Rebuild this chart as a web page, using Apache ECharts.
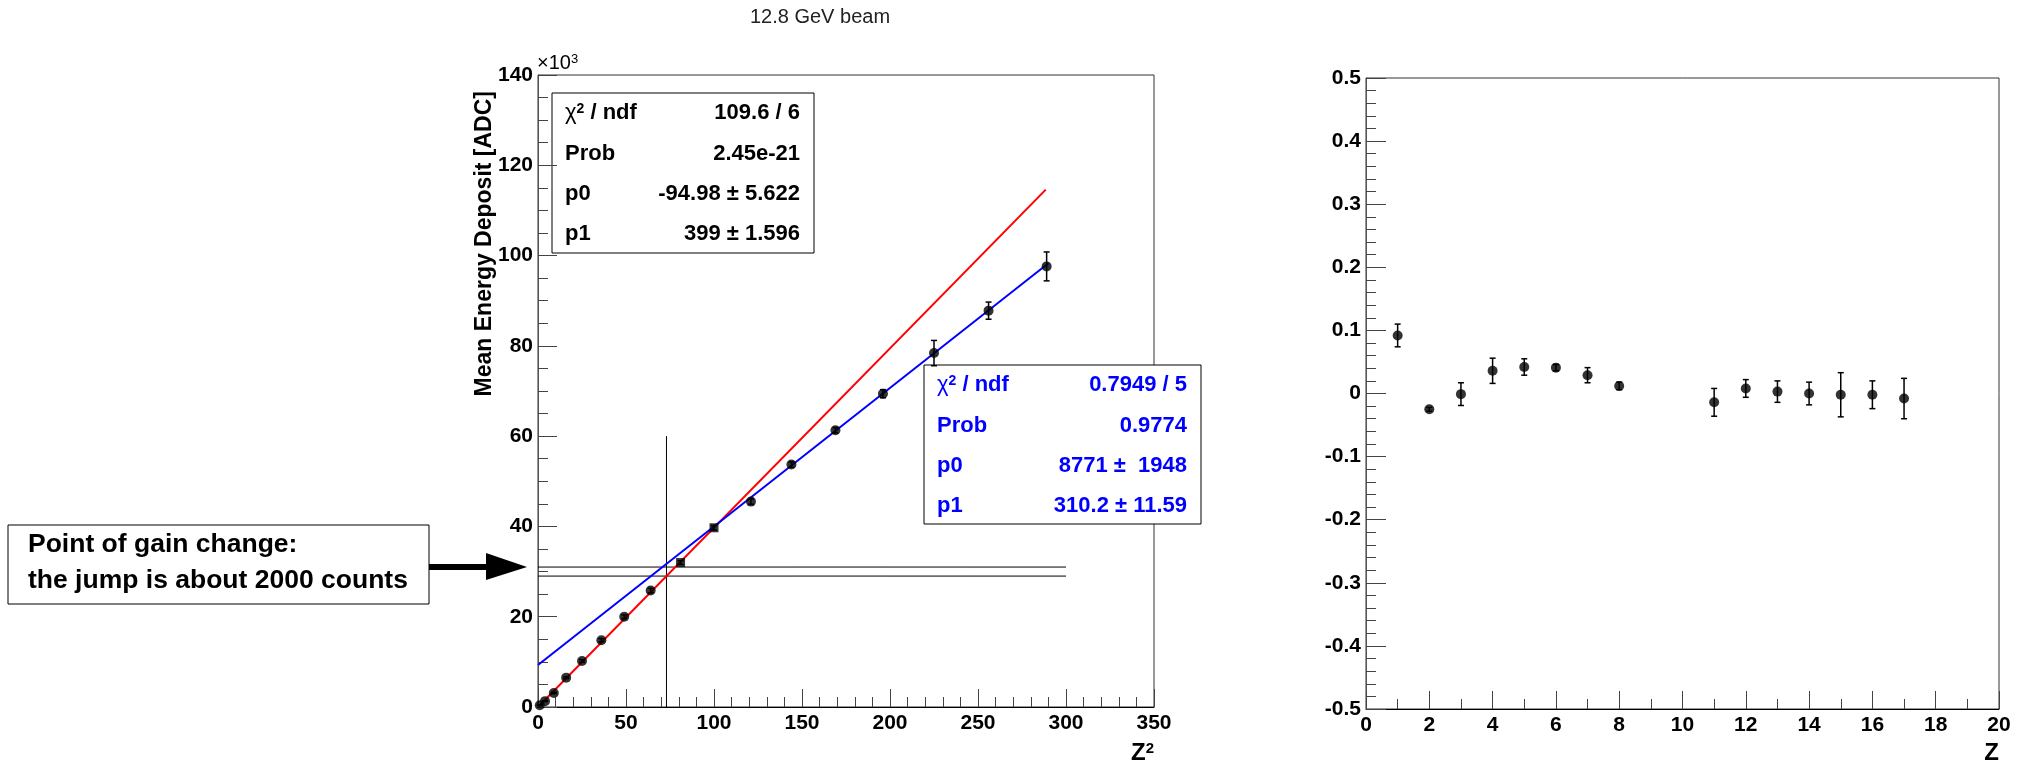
<!DOCTYPE html>
<html>
<head>
<meta charset="utf-8">
<script src="https://cdn.jsdelivr.net/npm/echarts@6/dist/echarts.min.js"></script>
<style>
html, body { margin: 0; padding: 0; background: #fff; }
#main { width: 2029px; height: 769px; }
</style>
</head>
<body>
<div id="main"></div>
<script>
// left pad: mean energy deposit vs Z^2
var zSquared = [1, 4, 9, 16, 25, 36, 49, 64, 81, 100, 121, 144, 169, 196, 225, 256, 289];
var meanDeposit = [400, 1300, 3100, 6500, 10200, 14800, 20000, 25800, 32000, 39700, 45500, 53700, 61300, 69400, 78400, 87800, 97600];
var meanDepositErr = [50, 100, 150, 200, 300, 350, 400, 500, 400, 500, 600, 600, 600, 900, 2800, 1900, 3200];
var squareMarkerX = [81, 100];

// fit lines and the gain-change guide lines (end points)
var redFit = [[0, 0], [288.5, 114600]];
var blueFit = [[0, 9300], [290, 98300]];
var gainCut = [[73, 0], [73, 60000]];
var gainLow = [[0, 29000], [300, 29000]];
var gainHigh = [[0, 31000], [300, 31000]];

// right pad: residuals vs Z
var zValues = [1, 2, 3, 4, 5, 6, 7, 8, 11, 12, 13, 14, 15, 16, 17];
var residual = [0.092, -0.025, -0.001, 0.036, 0.042, 0.041, 0.029, 0.012, -0.014, 0.008, 0.003, 0.000, -0.002, -0.002, -0.008];
var residualErr = [0.018, 0.003, 0.018, 0.020, 0.013, 0.005, 0.012, 0.006, 0.022, 0.014, 0.017, 0.018, 0.035, 0.022, 0.032];

// fit statistics boxes
var statLabels = ['{g|\u03c7}{s|2}{t| / ndf}', 'Prob', 'p0', 'p1'];
var statsRed = ['109.6 / 6', '2.45e-21', '-94.98 \u00b1 5.622', '399 \u00b1 1.596'];
var statsBlue = ['0.7949 / 5', '0.9774', '8771 \u00b1  1948', '310.2 \u00b1 11.59'];

var FONT = '"Liberation Sans", Arial, Helvetica, sans-serif';

var myChart = echarts.init(document.getElementById('main'));

function pts(xs, ys) {
    return xs.map(function (x, i) { return [x, ys[i]]; });
}
function bars(xs, ys, es) {
    return xs.map(function (x, i) { return [x, ys[i] - es[i], ys[i] + es[i]]; });
}

function errorBars(idx, data) {
    return {
        type: 'custom',
        xAxisIndex: idx,
        yAxisIndex: idx,
        data: data,
        encode: { x: 0, y: [1, 2] },
        silent: true,
        z: 3,
        renderItem: function (params, api) {
            var top = api.coord([api.value(0), api.value(2)]);
            var bot = api.coord([api.value(0), api.value(1)]);
            var st = { stroke: '#000', lineWidth: 1.5 };
            return {
                type: 'group',
                children: [
                    { type: 'line', shape: { x1: top[0], y1: top[1], x2: bot[0], y2: bot[1] }, style: st },
                    { type: 'line', shape: { x1: top[0] - 3, y1: top[1], x2: top[0] + 3, y2: top[1] }, style: st },
                    { type: 'line', shape: { x1: bot[0] - 3, y1: bot[1], x2: bot[0] + 3, y2: bot[1] }, style: st }
                ]
            };
        }
    };
}

function plainLine(data, color, width) {
    return {
        type: 'line',
        xAxisIndex: 0,
        yAxisIndex: 0,
        data: data,
        showSymbol: false,
        silent: true,
        animation: false,
        lineStyle: { color: color, width: width },
        z: 2
    };
}

function axisCommon(min, max, interval, minorSplit, tickLen, lineColor, margin, fmt) {
    return {
        type: 'value',
        min: min,
        max: max,
        interval: interval,
        axisLine: { show: true, onZero: false, lineStyle: { color: lineColor, width: 1 } },
        axisTick: { show: true, inside: true, length: tickLen, lineStyle: { color: '#444', width: 1 } },
        minorTick: { show: true, splitNumber: minorSplit, length: 10, lineStyle: { color: '#444', width: 1 } },
        splitLine: { show: false },
        axisLabel: {
            color: '#000',
            fontFamily: FONT,
            fontWeight: 'bold',
            fontSize: 21,
            margin: margin,
            formatter: fmt
        }
    };
}

function statsBox(x, y, w, h, values, color) {
    var children = [{
        type: 'rect',
        shape: { x: 0, y: 0, width: w, height: h },
        style: { fill: '#fff', stroke: '#000', lineWidth: 1 }
    }];
    var rowY = [20, 61, 101, 141];
    statLabels.forEach(function (lab, i) {
        children.push({
            type: 'text',
            x: 13, y: rowY[i],
            style: {
                text: lab,
                fill: color,
                font: 'bold 22px ' + FONT,
                verticalAlign: 'middle',
                align: 'left',
                rich: {
                    g: { fontSize: 22, fontFamily: FONT, fill: color, color: color },
                    s: { fontSize: 14, fontWeight: 'bold', fontFamily: FONT, fill: color, color: color, verticalAlign: 'top' },
                    t: { fontSize: 22, fontWeight: 'bold', fontFamily: FONT, fill: color, color: color }
                }
            }
        });
        children.push({
            type: 'text',
            x: w - 14, y: rowY[i],
            style: {
                text: values[i],
                fill: color,
                font: 'bold 22px ' + FONT,
                verticalAlign: 'middle',
                align: 'right'
            }
        });
    });
    return { type: 'group', x: x, y: y, z: 100, children: children };
}

var circleZ = [], circleV = [], squareZ = [], squareV = [];
zSquared.forEach(function (x, i) {
    if (squareMarkerX.indexOf(x) >= 0) { squareZ.push(x); squareV.push(meanDeposit[i]); }
    else { circleZ.push(x); circleV.push(meanDeposit[i]); }
});

var option = {
    animation: false,
    backgroundColor: '#fff',
    grid: [
        { left: 538, top: 75, width: 616, height: 632, show: true, borderColor: '#333', borderWidth: 1, backgroundColor: 'transparent' },
        { left: 1366, top: 78, width: 633, height: 631, show: true, borderColor: '#333', borderWidth: 1, backgroundColor: 'transparent' }
    ],
    xAxis: [
        Object.assign(axisCommon(0, 350, 50, 5, 18, '#000', 6), { gridIndex: 0 }),
        Object.assign(axisCommon(0, 20, 2, 2, 18, '#000', 6), { gridIndex: 1 })
    ],
    yAxis: [
        Object.assign(axisCommon(0, 140000, 20000, 4, 19, '#555', 5, function (v) { return v / 1000; }), { gridIndex: 0 }),
        Object.assign(axisCommon(-0.5, 0.5, 0.1, 5, 20, '#555', 5), { gridIndex: 1 })
    ],
    series: [
        plainLine(gainCut, '#000', 1),
        plainLine(gainLow, '#000', 1),
        plainLine(gainHigh, '#000', 1),
        plainLine(redFit, '#ff0000', 2),
        plainLine(blueFit, '#0000ff', 2),
        errorBars(0, bars(zSquared, meanDeposit, meanDepositErr)),
        {
            type: 'scatter', xAxisIndex: 0, yAxisIndex: 0,
            data: pts(circleZ, circleV),
            symbol: 'circle', symbolSize: 10,
            itemStyle: { color: '#000' }, z: 4
        },
        {
            type: 'scatter', xAxisIndex: 0, yAxisIndex: 0,
            data: pts(squareZ, squareV),
            symbol: 'rect', symbolSize: 9,
            itemStyle: { color: '#000' }, z: 4
        },
        errorBars(1, bars(zValues, residual, residualErr)),
        {
            type: 'scatter', xAxisIndex: 1, yAxisIndex: 1,
            data: pts(zValues, residual),
            symbol: 'circle', symbolSize: 10,
            itemStyle: { color: '#000' }, z: 4
        }
    ],
    graphic: [
        {
            type: 'text', x: 820, y: 17, z: 100,
            style: { text: '12.8 GeV beam', font: '20px ' + FONT, fill: '#222', align: 'center', verticalAlign: 'middle' }
        },
        {
            type: 'text', x: 537, y: 63, z: 100,
            style: {
                text: '{a|\u00d710}{b|3}', align: 'left', verticalAlign: 'middle',
                rich: {
                    a: { fontSize: 20, fontFamily: FONT, fill: '#000', color: '#000' },
                    b: { fontSize: 13, fontFamily: FONT, fill: '#000', color: '#000', verticalAlign: 'top' }
                }
            }
        },
        {
            type: 'text', x: 485, y: 91, rotation: Math.PI / 2, z: 100,
            style: { text: 'Mean Energy Deposit [ADC]', font: 'bold 23px ' + FONT, fill: '#000', align: 'right', verticalAlign: 'middle' }
        },
        {
            type: 'text', x: 1154, y: 753, z: 100,
            style: {
                text: '{a|Z}{b|2}', align: 'right', verticalAlign: 'middle',
                rich: {
                    a: { fontSize: 24, fontWeight: 'bold', fontFamily: FONT, fill: '#000', color: '#000' },
                    b: { fontSize: 15, fontWeight: 'bold', fontFamily: FONT, fill: '#000', color: '#000', verticalAlign: 'top' }
                }
            }
        },
        {
            type: 'text', x: 1999, y: 753, z: 100,
            style: { text: 'Z', font: 'bold 24px ' + FONT, fill: '#000', align: 'right', verticalAlign: 'middle' }
        },
        statsBox(552, 93, 262, 160, statsRed, '#000'),
        statsBox(924, 365, 277, 159, statsBlue, '#0000ff'),
        // annotation box with arrow
        {
            type: 'group', x: 0, y: 0, z: 100,
            children: [
                { type: 'rect', shape: { x: 8, y: 525, width: 421, height: 79 }, style: { fill: '#fff', stroke: '#000', lineWidth: 1 } },
                { type: 'text', x: 28, y: 545, style: { text: 'Point of gain change:', font: 'bold 26.5px ' + FONT, fill: '#000', verticalAlign: 'middle' } },
                { type: 'text', x: 28, y: 581, style: { text: 'the jump is about 2000 counts', font: 'bold 26.5px ' + FONT, fill: '#000', verticalAlign: 'middle' } },
                { type: 'rect', shape: { x: 429, y: 564, width: 60, height: 6 }, style: { fill: '#000' } },
                { type: 'polygon', shape: { points: [[486, 553], [527, 567], [486, 580]] }, style: { fill: '#000' } }
            ]
        }
    ]
};

myChart.setOption(option);
window.addEventListener('resize', function () {
    myChart.resize();
});
</script>
</body>
</html>
